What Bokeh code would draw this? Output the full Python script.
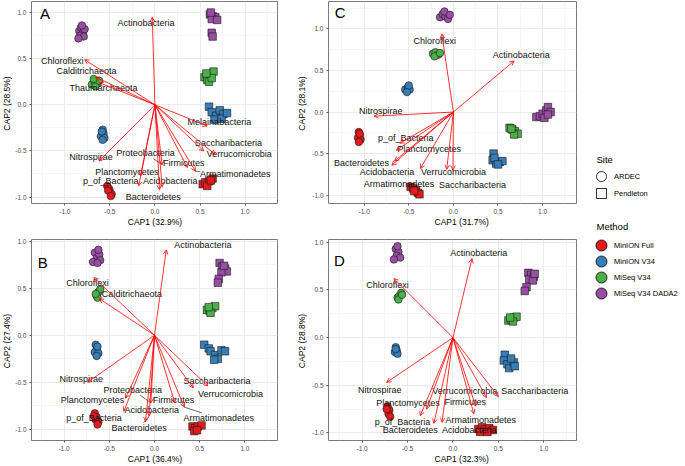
import math
from bokeh.plotting import figure
from bokeh.models import Range1d, FixedTicker, Arrow, OpenHead, ColumnDataSource, PrintfTickFormatter
from bokeh.layouts import row, column
from bokeh.embed import file_html
from bokeh.resources import INLINE
from bokeh.core.properties import value

FONT = "Liberation Sans"

# ---------------- data ----------------
methods = ["MinION Full", "MinION V34", "MiSeq V34", "MiSeq V34 DADA2"]
method_colors = ["#E41A1C", "#377EB8", "#4DAF4A", "#984EA3"]
sites = ["ARDEC", "Pendleton"]
site_markers = ["circle", "square"]

tick_vals = [-1.0, -0.5, 0.0, 0.5, 1.0]
tick_labels = ["-1.0", "-0.5", "0.0", "0.5", "1.0"]
minor_vals = [-1.25, -0.75, -0.25, 0.25, 0.75, 1.25]

# Panel A
A_ardec = {
    "MinION Full": ([-0.53, -0.51, -0.50, -0.48, -0.52, -0.49], [-0.88, -0.91, -0.94, -0.97, -0.93, -0.99]),
    "MinION V34": ([-0.58, -0.57, -0.60, -0.56, -0.58, -0.59], [-0.27, -0.31, -0.34, -0.36, -0.38, -0.29]),
    "MiSeq V34": ([-0.70, -0.67, -0.64, -0.66, -0.62, -0.68], [0.22, 0.25, 0.23, 0.20, 0.26, 0.28]),
    "MiSeq V34 DADA2": ([-0.84, -0.82, -0.80, -0.78, -0.83, -0.79, -0.85, -0.81], [0.80, 0.84, 0.78, 0.82, 0.75, 0.74, 0.72, 0.86]),
}
A_pendleton = {
    "MinION Full": ([0.53, 0.56, 0.60, 0.64, 0.58, 0.62], [-0.86, -0.84, -0.83, -0.80, -0.88, -0.82]),
    "MinION V34": ([0.60, 0.63, 0.68, 0.72, 0.76, 0.66, 0.74, 0.80], [-0.02, -0.08, -0.12, -0.06, -0.10, -0.16, -0.15, -0.09]),
    "MiSeq V34": ([0.55, 0.58, 0.62, 0.60, 0.65, 0.63, 0.57], [0.30, 0.27, 0.33, 0.25, 0.36, 0.29, 0.34]),
    "MiSeq V34 DADA2": ([0.61, 0.64, 0.67, 0.63, 0.69, 0.62, 0.63, 0.64], [0.98, 0.96, 0.95, 0.93, 0.92, 1.00, 0.78, 0.74]),
}
A_taxa = ["Actinobacteria", "Chloroflexi", "Calditrichaeota", "Thaumarchaeota", "Melainabacteria",
          "Saccharibacteria", "Verrucomicrobia", "Armatimonadetes", "Firmicutes", "Proteobacteria",
          "Planctomycetes", "p_of_Bacteria", "Acidobacteria", "Bacteroidetes", "Nitrospirae"]
A_cap1 = [-0.03, -0.78, -0.66, -0.62, 0.58, 0.54, 0.67, 0.45, 0.36, 0.08, -0.16, -0.18, 0.08, 0.05, -0.62]
A_cap2 = [0.95, 0.49, 0.30, 0.24, -0.23, -0.50, -0.54, -0.72, -0.68, -0.65, -0.77, -0.88, -0.89, -0.92, -0.61]
A_lab_x = [-0.10, -1.03, -0.76, -0.57, 0.715, 0.815, 0.935, 0.89, 0.32, -0.105, -0.31, -0.49, 0.17, -0.02, -0.71]
A_lab_y = [0.89, 0.48, 0.37, 0.18, -0.19, -0.41, -0.53, -0.75, -0.63, -0.525, -0.725, -0.83, -0.83, -1.00, -0.57]
A_leaders = ["Proteobacteria", "Armatimonadetes"]

# Panel B
B_ardec = {
    "MinION Full": ([-0.66, -0.64, -0.65, -0.62, -0.63, -0.67], [-0.83, -0.87, -0.90, -0.92, -0.95, -0.86]),
    "MinION V34": ([-0.65, -0.64, -0.66, -0.62, -0.64, -0.63], [-0.10, -0.15, -0.18, -0.19, -0.22, -0.12]),
    "MiSeq V34": ([-0.64, -0.62, -0.60, -0.63, -0.65], [0.42, 0.46, 0.49, 0.40, 0.44]),
    "MiSeq V34 DADA2": ([-0.66, -0.64, -0.61, -0.60, -0.68, -0.63, -0.62], [0.88, 0.82, 0.86, 0.80, 0.78, 0.77, 0.91]),
}
B_pendleton = {
    "MinION Full": ([0.42, 0.45, 0.48, 0.52, 0.44, 0.47], [-0.97, -0.99, -0.97, -0.96, -1.02, -1.01]),
    "MinION V34": ([0.55, 0.60, 0.62, 0.67, 0.70, 0.74, 0.78, 0.66], [-0.10, -0.14, -0.17, -0.21, -0.25, -0.16, -0.17, -0.26]),
    "MiSeq V34": ([0.58, 0.61, 0.64, 0.67, 0.62, 0.60], [0.27, 0.26, 0.29, 0.31, 0.24, 0.30]),
    "MiSeq V34 DADA2": ([0.72, 0.75, 0.78, 0.80, 0.74, 0.71, 0.70, 0.77], [0.77, 0.73, 0.71, 0.68, 0.67, 0.60, 0.56, 0.74]),
}
B_taxa = ["Actinobacteria", "Chloroflexi", "Calditrichaeota", "Nitrospirae", "Saccharibacteria",
          "Verrucomicrobia", "Proteobacteria", "Firmicutes", "Planctomycetes", "Acidobacteria",
          "p_of_Bacteria", "Bacteroidetes", "Armatimonadetes"]
B_cap1 = [0.13, -0.67, -0.61, -0.74, 0.59, 0.43, -0.04, 0.225, -0.32, -0.10, -0.34, -0.06, 0.33]
B_cap2 = [0.91, 0.615, 0.39, -0.50, -0.54, -0.56, -0.72, -0.72, -0.67, -0.92, -0.81, -0.86, -0.765]
B_lab_x = [0.535, -0.74, -0.25, -0.81, 0.69, 0.84, -0.24, 0.21, -0.685, -0.03, -0.67, -0.17, 0.71]
B_lab_y = [0.965, 0.555, 0.44, -0.46, -0.49, -0.625, -0.58, -0.685, -0.685, -0.79, -0.885, -0.99, -0.885]
B_leaders = ["Proteobacteria", "Bacteroidetes", "Armatimonadetes"]

# Panel C
C_ardec = {
    "MinION Full": ([-1.06, -1.05, -1.07, -1.04, -1.06, -1.05], [-0.24, -0.28, -0.31, -0.33, -0.36, -0.26]),
    "MinION V34": ([-0.54, -0.51, -0.49, -0.52, -0.50], [0.27, 0.30, 0.27, 0.24, 0.32]),
    "MiSeq V34": ([-0.23, -0.20, -0.17, -0.21, -0.15], [0.70, 0.72, 0.69, 0.67, 0.71]),
    "MiSeq V34 DADA2": ([-0.15, -0.12, -0.09, -0.06, -0.10, -0.04], [1.14, 1.18, 1.15, 1.12, 1.21, 1.17]),
}
C_pendleton = {
    "MinION Full": ([-0.48, -0.45, -0.42, -0.40, -0.38, -0.44], [-0.90, -0.92, -0.94, -0.97, -0.99, -0.95]),
    "MinION V34": ([0.45, 0.44, 0.48, 0.52, 0.55, 0.46, 0.50], [-0.50, -0.58, -0.62, -0.60, -0.59, -0.55, -0.63]),
    "MiSeq V34": ([0.63, 0.66, 0.69, 0.72, 0.68, 0.65], [-0.19, -0.21, -0.23, -0.26, -0.27, -0.20]),
    "MiSeq V34 DADA2": ([0.93, 0.97, 1.00, 1.04, 1.06, 1.09, 1.02, 1.06], [-0.06, -0.05, -0.02, 0.02, 0.06, 0.00, -0.07, -0.03]),
}
C_taxa = ["Chloroflexi", "Actinobacteria", "Nitrospirae", "p_of_Bacteria", "Planctomycetes",
          "Bacteroidetes", "Acidobacteria", "Armatimonadetes", "Verrucomicrobia", "Saccharibacteria"]
C_cap1 = [-0.13, 0.68, -0.89, -0.60, -0.64, -0.66, -0.69, -0.37, -0.075, -0.005]
C_cap2 = [0.94, 0.615, -0.05, -0.375, -0.46, -0.59, -0.64, -0.68, -0.69, -0.70]
C_lab_x = [-0.21, 0.76, -0.815, -0.535, -0.27, -1.03, -0.745, -0.61, 0.0, 0.215]
C_lab_y = [0.86, 0.69, 0.01, -0.315, -0.45, -0.61, -0.725, -0.87, -0.72, -0.875]
C_leaders = []

# Panel D
D_ardec = {
    "MinION Full": ([-0.72, -0.70, -0.71, -0.69, -0.73], [-0.72, -0.76, -0.80, -0.83, -0.75]),
    "MinION V34": ([-0.63, -0.62, -0.64, -0.61, -0.63], [-0.10, -0.13, -0.15, -0.17, -0.12]),
    "MiSeq V34": ([-0.61, -0.59, -0.57, -0.60, -0.56], [0.42, 0.44, 0.47, 0.40, 0.45]),
    "MiSeq V34 DADA2": ([-0.63, -0.60, -0.62, -0.58, -0.65, -0.61], [0.93, 0.90, 0.86, 0.84, 0.82, 0.96]),
}
D_pendleton = {
    "MinION Full": ([0.28, 0.32, 0.36, 0.40, 0.44, 0.30, 0.38], [-0.96, -0.94, -0.96, -0.95, -0.97, -0.99, -0.99]),
    "MinION V34": ([0.57, 0.56, 0.60, 0.62, 0.67, 0.68, 0.64], [-0.18, -0.24, -0.28, -0.32, -0.26, -0.30, -0.22]),
    "MiSeq V34": ([0.61, 0.64, 0.67, 0.70, 0.66, 0.63], [0.18, 0.19, 0.21, 0.22, 0.17, 0.21]),
    "MiSeq V34 DADA2": ([0.83, 0.86, 0.89, 0.84, 0.88, 0.81, 0.79, 0.90], [0.68, 0.66, 0.64, 0.61, 0.60, 0.53, 0.49, 0.67]),
}
D_taxa = ["Actinobacteria", "Chloroflexi", "Nitrospirae", "Verrucomicrobia", "Saccharibacteria",
          "Firmicutes", "Armatimonadetes", "Acidobacteria", "Bacteroidetes", "p_of_Bacteria", "Planctomycetes"]
D_cap1 = [0.21, -0.65, -0.73, 0.37, 0.50, 0.25, 0.23, -0.12, -0.21, -0.36, -0.29]
D_cap2 = [0.83, 0.62, -0.47, -0.63, -0.62, -0.72, -0.80, -0.89, -0.90, -0.82, -0.75]
D_lab_x = [0.285, -0.72, -0.805, 0.13, 0.90, 0.135, 0.305, 0.18, -0.47, -0.555, -0.495]
D_lab_y = [0.89, 0.555, -0.545, -0.565, -0.565, -0.675, -0.865, -0.965, -0.975, -0.885, -0.69]
D_leaders = []

panel_letters = ["A", "B", "C", "D"]
x_titles = ["CAP1 (32.9%)", "CAP1 (36.4%)", "CAP1 (31.7%)", "CAP1 (32.3%)"]
y_titles = ["CAP2 (28.5%)", "CAP2 (27.4%)", "CAP2 (28.1%)", "CAP2 (28.8%)"]
x_ranges = [(-1.37, 1.36), (-1.36, 1.36), (-1.40, 1.38), (-1.37, 1.36)]
y_ranges = [(-1.07, 1.12), (-1.12, 1.02), (-1.10, 1.33), (-1.08, 1.03)]
letter_pos = [(-1.22, 0.99), (-1.235, 0.77), (-1.27, 1.20), (-1.25, 0.81)]

# ---------------- layout constants (pixels) ----------------
YSTRIP_L, YSTRIP_R = 12, 16          # widths of the strips holding the y titles
LEFT_BL, LEFT_FW, LEFT_BR = 15, 250, 14
RIGHT_BL, RIGHT_FW, RIGHT_BR = 21, 248, 1
TOP_BT, TOP_FH, TOP_BB, TOP_XS = 1, 204, 11, 13
BOT_BT, BOT_FH, BOT_BB, BOT_XS = 10, 203, 11, 13
LEG_W = 107
TOP_H = TOP_BT + TOP_FH + TOP_BB + TOP_XS
BOT_H = BOT_BT + BOT_FH + BOT_BB + BOT_XS


def leader_segments(names, tx, ty, lx, ly, which, sx, sy):
    x0, y0, x1, y1 = [], [], [], []
    for n, a, b, c, d in zip(names, tx, ty, lx, ly):
        if n not in which:
            continue
        dx = (a - c) * sx
        dy = (b - d) * sy
        hw = len(n) * 2.3 + 1.0
        hh = 5.5
        t = min(hw / abs(dx) if dx else 1e9, hh / abs(dy) if dy else 1e9)
        if t >= 1:
            continue
        x0.append(c + (a - c) * t)
        y0.append(d + (b - d) * t)
        x1.append(a)
        y1.append(b)
    return x0, y0, x1, y1


def strip(w, h, text, tx, ty_from_top, angle=0.0):
    s = figure(width=w, height=h, x_range=Range1d(0, w), y_range=Range1d(0, h),
               output_backend="svg", toolbar_location=None,
               x_axis_location=None, y_axis_location=None, min_border=0)
    s.grid.visible = False
    s.outline_line_color = None
    s.background_fill_color = "white"
    s.border_fill_color = "white"
    s.text(x=[tx], y=[h - ty_from_top], text=[text], angle=angle, text_font=value(FONT),
           text_font_size="8.5px", text_align="center", text_baseline="middle", text_color="black")
    return s


def build_panel(idx, ardec, pend, taxa, cx, cy, lx, ly, leaders, bl, fw, br, bt, fh, bb):
    xr, yr = x_ranges[idx], y_ranges[idx]
    p = figure(width=bl + fw + br, height=bt + fh + bb, x_range=Range1d(*xr), y_range=Range1d(*yr),
               output_backend="svg", toolbar_location=None,
               min_border_left=bl, min_border_right=br, min_border_top=bt, min_border_bottom=bb)
    p.background_fill_color = "white"
    p.border_fill_color = "white"
    p.outline_line_color = "#7A7A7A"
    p.outline_line_width = 1

    for ax in (p.xaxis[0], p.yaxis[0]):
        ax.ticker = FixedTicker(ticks=tick_vals, minor_ticks=minor_vals)
        ax.formatter = PrintfTickFormatter(format="%.1f")
        ax.major_label_overrides = {v: s for v, s in zip(tick_vals, tick_labels)}
        ax.axis_line_color = None
        ax.major_tick_line_color = "#333333"
        ax.major_tick_line_width = 0.8
        ax.major_tick_out = 2
        ax.major_tick_in = 0
        ax.minor_tick_line_color = None
        ax.major_label_text_font = FONT
        ax.major_label_text_font_size = "6.5px"
        ax.major_label_text_color = "#4D4D4D"
        ax.major_label_standoff = 1

    for g in (p.xgrid[0], p.ygrid[0]):
        g.grid_line_color = "#EBEBEB"
        g.grid_line_width = 1
        g.minor_grid_line_color = "#F0F0F0"
        g.minor_grid_line_width = 0.6

    sx = fw / (xr[1] - xr[0])
    sy = fh / (yr[1] - yr[0])

    # points
    for site_data, marker in ((ardec, site_markers[0]), (pend, site_markers[1])):
        for m, col in zip(methods, method_colors):
            xs, ys = site_data[m]
            p.scatter(xs, ys, marker=marker, size=7.5, fill_color=col,
                      line_color="#1a1a1a", line_width=0.6)

    # arrows
    n = len(taxa)
    src = ColumnDataSource(dict(x0=[0.0] * n, y0=[0.0] * n, x1=cx, y1=cy))
    p.add_layout(Arrow(end=OpenHead(size=4.5, line_color="red", line_width=0.8),
                       x_start="x0", y_start="y0", x_end="x1", y_end="y1",
                       source=src, line_color="red", line_width=0.8))

    # leader lines
    x0, y0, x1, y1 = leader_segments(taxa, cx, cy, lx, ly, leaders, sx, sy)
    if x0:
        p.segment(x0, y0, x1, y1, line_color="black", line_width=0.6)

    # labels
    p.text(x=lx, y=ly, text=taxa, text_font=value(FONT), text_font_size="9px",
           text_align="center", text_baseline="middle", text_color="#111111")

    # panel letter
    p.text(x=[letter_pos[idx][0]], y=[letter_pos[idx][1]], text=[panel_letters[idx]],
           text_font=value(FONT), text_font_size="15px",
           text_align="center", text_baseline="middle", text_color="black")
    return p


def block(idx, data, ystrip_w, ytitle_x, bl, fw, br, top):
    ardec, pend, taxa, cx, cy, lx, ly, leaders = data
    if top:
        bt, fh, bb, xs = TOP_BT, TOP_FH, TOP_BB, TOP_XS
    else:
        bt, fh, bb, xs = BOT_BT, BOT_FH, BOT_BB, BOT_XS
    h = bt + fh + bb + xs
    p = build_panel(idx, ardec, pend, taxa, cx, cy, lx, ly, leaders, bl, fw, br, bt, fh, bb)
    ys = strip(ystrip_w, h, y_titles[idx], ytitle_x, bt + fh / 2.0, angle=math.pi / 2)
    xs_fig = strip(bl + fw + br, xs, x_titles[idx], bl + fw / 2.0, 5.5)
    return row(ys, column(p, xs_fig))


bA = block(0, (A_ardec, A_pendleton, A_taxa, A_cap1, A_cap2, A_lab_x, A_lab_y, A_leaders),
           YSTRIP_L, 6.7, LEFT_BL, LEFT_FW, LEFT_BR, True)
bB = block(1, (B_ardec, B_pendleton, B_taxa, B_cap1, B_cap2, B_lab_x, B_lab_y, B_leaders),
           YSTRIP_L, 6.7, LEFT_BL, LEFT_FW, LEFT_BR, False)
bC = block(2, (C_ardec, C_pendleton, C_taxa, C_cap1, C_cap2, C_lab_x, C_lab_y, C_leaders),
           YSTRIP_R, 10.5, RIGHT_BL, RIGHT_FW, RIGHT_BR, True)
bD = block(3, (D_ardec, D_pendleton, D_taxa, D_cap1, D_cap2, D_lab_x, D_lab_y, D_leaders),
           YSTRIP_R, 10.5, RIGHT_BL, RIGHT_FW, RIGHT_BR, False)

# ---------------- legend ----------------
X0 = YSTRIP_L + LEFT_BL + LEFT_FW + LEFT_BR + YSTRIP_R + RIGHT_BL + RIGHT_FW + RIGHT_BR
H = TOP_H + BOT_H
leg = figure(width=LEG_W, height=H, x_range=Range1d(X0, X0 + LEG_W),
             y_range=Range1d(H, 0), output_backend="svg", toolbar_location=None,
             x_axis_location=None, y_axis_location=None, min_border=0)
leg.grid.visible = False
leg.outline_line_color = None
leg.background_fill_color = "white"
leg.border_fill_color = "white"

key_x = 601
text_x = 613.5
title_x = 596
site_title_y = 159
site_y0 = 176
site_step = 17
method_title_y = 226
method_y0 = 245
method_step = 16

leg.text(x=[title_x], y=[site_title_y], text=["Site"], text_font=value(FONT), text_font_size="9.5px",
         text_align="left", text_baseline="middle", text_color="black")
for i, (s, mk) in enumerate(zip(sites, site_markers)):
    yy = site_y0 + i * site_step
    leg.scatter([key_x], [yy], marker=mk, size=10, fill_color="white", line_color="black", line_width=0.8)
    leg.text(x=[text_x], y=[yy], text=[s], text_font=value(FONT), text_font_size="7.5px",
             text_align="left", text_baseline="middle", text_color="black")

leg.text(x=[title_x], y=[method_title_y], text=["Method"], text_font=value(FONT), text_font_size="9.5px",
         text_align="left", text_baseline="middle", text_color="black")
for i, (m, col) in enumerate(zip(methods, method_colors)):
    yy = method_y0 + i * method_step
    leg.scatter([key_x], [yy], marker="circle", size=11, fill_color=col, line_color="black", line_width=0.8)
    leg.text(x=[text_x], y=[yy], text=[m], text_font=value(FONT), text_font_size="7.5px",
             text_align="left", text_baseline="middle", text_color="black")

layout = row(column(bA, bB), column(bC, bD), leg)

open("out.html", "w").write(file_html(layout, INLINE))
